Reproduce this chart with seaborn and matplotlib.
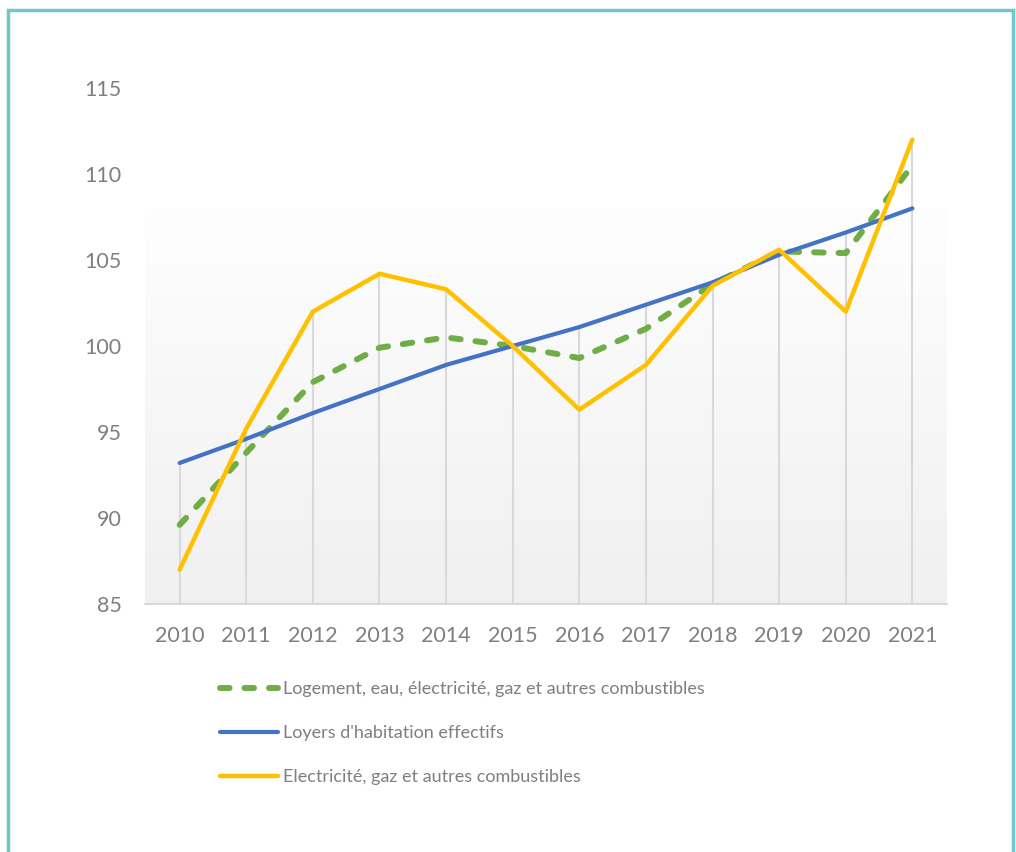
import numpy as np
import pandas as pd
import seaborn as sns
import matplotlib.pyplot as plt
from matplotlib.patches import Rectangle
from matplotlib.colors import LinearSegmentedColormap

years = [2010, 2011, 2012, 2013, 2014, 2015, 2016, 2017, 2018, 2019, 2020, 2021]
logement = [89.6, 93.8, 97.9, 99.9, 100.5, 100.0, 99.3, 101.0, 103.6, 105.5, 105.4, 110.5]
loyers = [93.2, 94.6, 96.1, 97.5, 98.9, 100.0, 101.1, 102.4, 103.7, 105.3, 106.6, 108.0]
electricite = [87.0, 95.2, 102.0, 104.2, 103.3, 100.0, 96.3, 98.9, 103.5, 105.6, 102.0, 112.0]

labels = ["Logement, eau, électricité, gaz et autres combustibles",
          "Loyers d'habitation effectifs",
          "Electricité, gaz et autres combustibles"]
colors = ["#70ad47", "#4472c4", "#ffc000"]
yticks = [85, 90, 95, 100, 105, 110, 115]

df = pd.DataFrame({"annee": years, "logement": logement,
                   "loyers": loyers, "electricite": electricite})

sns.set_style("white")
plt.rcParams['font.family'] = ['Lato', 'DejaVu Sans']

fig = plt.figure(figsize=(10.16, 8.52), dpi=100)
ax = fig.add_axes([145 / 1016, 1 - 604 / 852, 802 / 1016, 516 / 852])

# gradient background of the plot area (white on top, light grey at bottom)
grad = np.linspace(0, 1, 256).reshape(-1, 1)
cmap = LinearSegmentedColormap.from_list("g", ["#fefefe", "#f0f0f0"])
ax.imshow(grad, cmap=cmap, extent=[2009.48, 2021.52, 85, 108],
          aspect="auto", zorder=0, origin="upper")

# drop lines
tops = df[["logement", "loyers", "electricite"]].max(axis=1)
ax.vlines(df["annee"], 85, tops, color="#d9d9d9", lw=1.5, zorder=1)

sns.lineplot(data=df, x="annee", y="logement", ax=ax, color=colors[0],
             lw=4.3, label=labels[0], zorder=2)
ln = ax.lines[-1]
ln.set_dashes([1.6, 2.5])
ln.set_dash_capstyle("round")
sns.lineplot(data=df, x="annee", y="loyers", ax=ax, color=colors[1],
             lw=3.0, label=labels[1], zorder=3, solid_capstyle="round")
sns.lineplot(data=df, x="annee", y="electricite", ax=ax, color=colors[2],
             lw=3.2, label=labels[2], zorder=4, solid_capstyle="round")

ax.set_xlim(2009.48, 2021.52)
ax.set_ylim(85, 115)
ax.set_xticks(years)
ax.set_xticklabels([str(y) for y in years])
ax.set_yticks(yticks)
ax.set_xlabel("")
ax.set_ylabel("")
ax.tick_params(axis="both", length=0, labelsize=15.5, colors="#7f7f7f")
ax.tick_params(axis="y", pad=17)
ax.tick_params(axis="x", pad=16)
for s in ["top", "left", "right"]:
    ax.spines[s].set_visible(False)
ax.spines["bottom"].set_color("#d9d9d9")
ax.spines["bottom"].set_linewidth(1.5)
ax.patch.set_alpha(0)

handles, labs = ax.get_legend_handles_labels()
ax.get_legend().remove()
leg = fig.legend(handles, labs, loc="upper left", bbox_to_anchor=(213 / 1016, 1 - 674 / 852),
                 frameon=False, fontsize=13, handlelength=3.2, handletextpad=0.28,
                 labelspacing=1.55, borderaxespad=0)
for t in leg.get_texts():
    t.set_color("#7f7f7f")

# cyan frame around the figure
fig.patches.append(Rectangle((8 / 1016, -0.05), 1005 / 1016, 1.05 - 10 / 852,
                             transform=fig.transFigure, fill=False,
                             edgecolor="#72c6c9", lw=2.5, zorder=10))

fig.savefig("out.png", dpi=100)
